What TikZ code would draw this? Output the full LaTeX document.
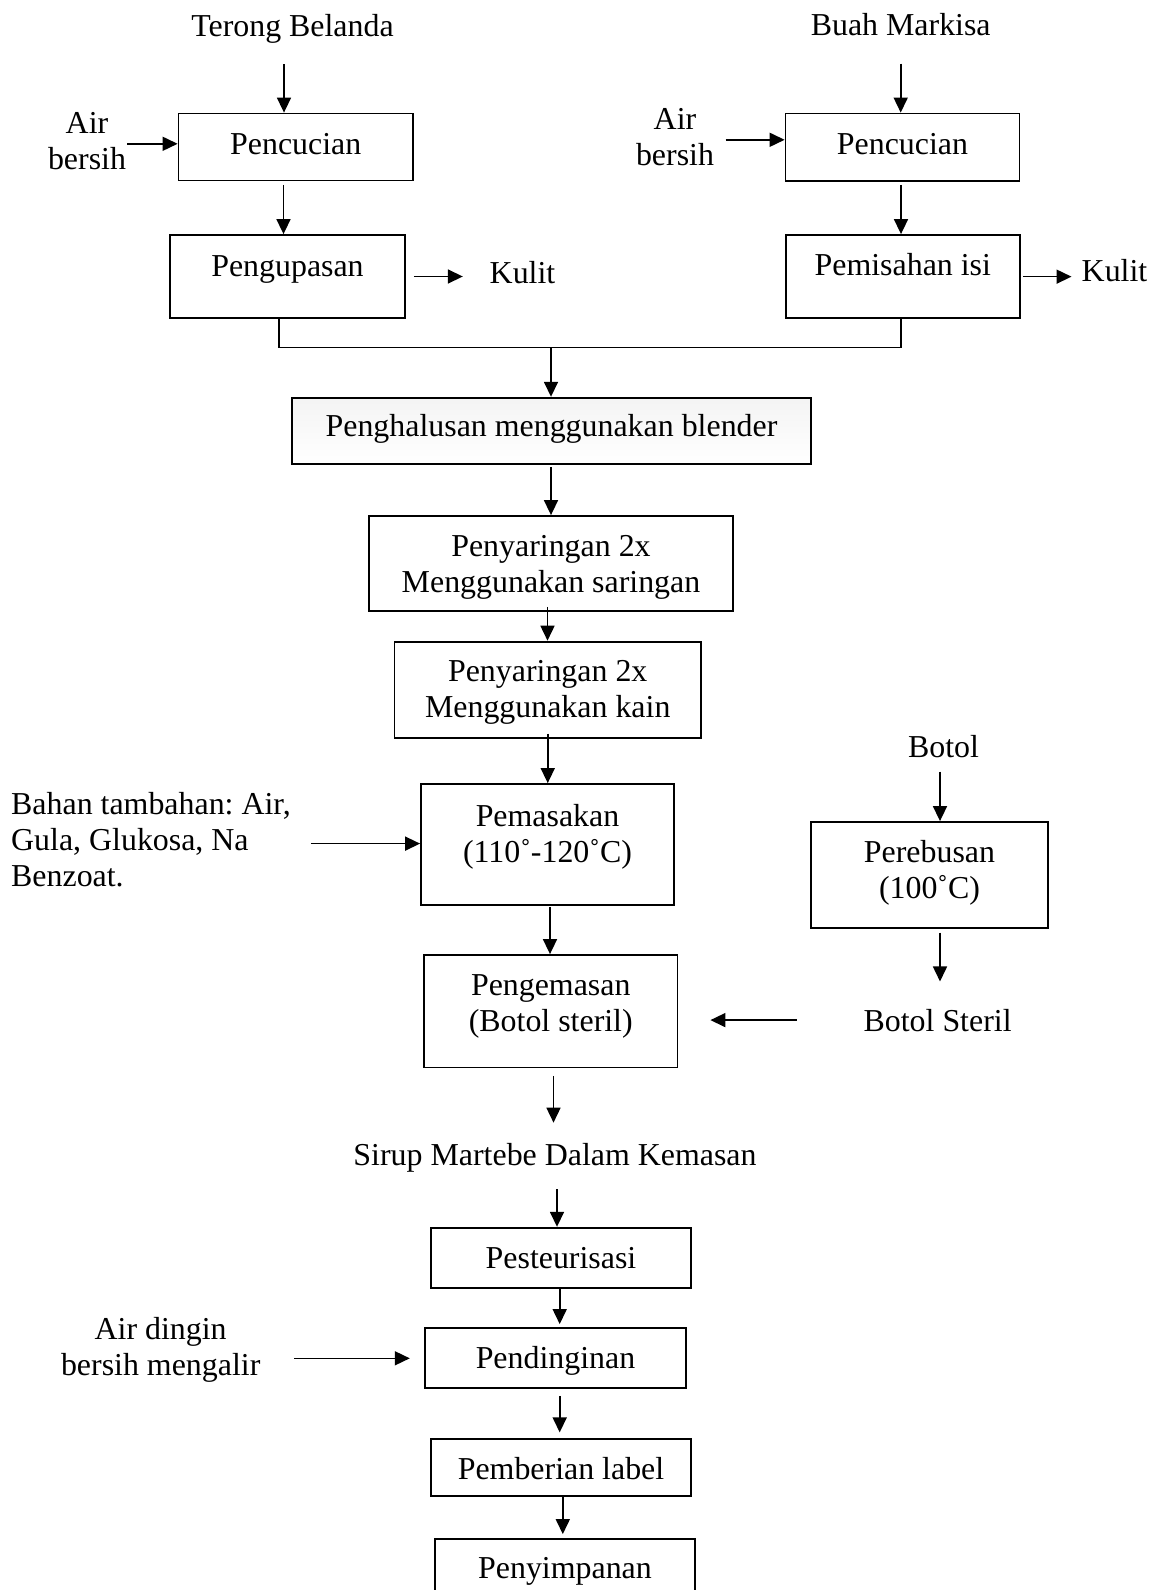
\documentclass[tikz,border=0pt]{standalone}
\usepackage{fontspec}
\setmainfont{Liberation Serif}
\usepackage{tikz}
\usetikzlibrary{arrows.meta, positioning}
\frenchspacing

\tikzset{
    stepbox/.style={draw, line width=1.8pt, inner sep=0pt, anchor=base},
    lbl/.style={inner sep=0pt, anchor=base},
    arr/.style={-{Triangle[length=15pt, width=14pt]}, line width=1.6pt},
}

\begin{document}
\begin{tikzpicture}[x=1pt, y=-1pt, every node/.style={font=\fontsize{31.9}{36}\selectfont}]
    \useasboundingbox (0,0) rectangle (1165,1590);

    % inputs
    \node (tb) [lbl] at (292.5,36) {Terong Belanda};
    \node (bm) [lbl] at (900.7,35) {Buah Markisa};
    \node (airL) [lbl] at (87,169) {\begin{tabular}[b]{@{}c@{}}Air\\bersih\end{tabular}};
    \node (airR) [lbl] at (675,165) {\begin{tabular}[b]{@{}c@{}}Air\\bersih\end{tabular}};

    % two branches
    \node (pcL) [stepbox, minimum width=234.5pt, text height=41pt, text depth=26pt] at (295.75,154.5) {Pencucian};
    \node (pgL) [stepbox, minimum width=235pt, text height=41pt, text depth=42pt] at (287.5,276) {Pengupasan};
    \node (kulL) [lbl] at (522.5,283) {Kulit};
    \node (pcR) [stepbox, minimum width=234pt, text height=40.5pt, text depth=27pt] at (902.5,154) {Pencucian};
    \node (pmR) [stepbox, minimum width=234.4pt, text height=40pt, text depth=43.3pt] at (902.8,275) {Pemisahan isi};
    \node (kulR) [lbl] at (1114.5,281.7) {Kulit};
    \coordinate (mj) at (551,347.3);

    % main line
    \node (blend) [stepbox, top color=gray!9, bottom color=white, minimum width=519pt, text height=39pt, text depth=27.6pt] at (551.5,436.7) {Penghalusan menggunakan blender};
    \node (sar) [stepbox, minimum width=364pt, text height=76pt, text depth=19pt] at (551,592) {\begin{tabular}[b]{@{}c@{}}Penyaringan 2x\\Menggunakan saringan\end{tabular}};
    \node (kain) [stepbox, minimum width=306.5pt, text height=76pt, text depth=20.2pt] at (547.75,717.6) {\begin{tabular}[b]{@{}c@{}}Penyaringan 2x\\Menggunakan kain\end{tabular}};
    \node (bahan) [lbl, anchor=base west] at (11,886.8) {\begin{tabular}[b]{@{}l@{}}Bahan tambahan: Air,\\Gula, Glukosa, Na\\Benzoat.\end{tabular}};
    \node (masak) [stepbox, minimum width=253pt, text height=78pt, text depth=43pt] at (547.5,862) {\begin{tabular}[b]{@{}c@{}}Pemasakan\\(110˚-120˚C)\end{tabular}};
    \node (kemas) [stepbox, minimum width=253.5pt, text height=76pt, text depth=36.5pt] at (550.75,1031) {\begin{tabular}[b]{@{}c@{}}Pengemasan\\(Botol steril)\end{tabular}};

    % bottle line
    \node (botol) [lbl] at (943.5,757.6) {Botol};
    \node (rebus) [stepbox, minimum width=237pt, text height=76pt, text depth=30pt] at (929.5,898) {\begin{tabular}[b]{@{}c@{}}Perebusan\\(100˚C)\end{tabular}};
    \node (steril) [lbl] at (937.6,1031) {Botol Steril};

    % end product
    \node (sirup) [lbl] at (555,1165) {Sirup Martebe Dalam Kemasan};
    \node (pst) [stepbox, minimum width=260pt, text height=40.6pt, text depth=19.4pt] at (561,1268.3) {Pesteurisasi};
    \node (airdingin) [lbl] at (160.7,1375) {\begin{tabular}[b]{@{}c@{}}Air dingin\\bersih mengalir\end{tabular}};
    \node (dingin) [stepbox, minimum width=261pt, text height=40pt, text depth=20pt] at (555.5,1368.3) {Pendinginan};
    \node (label) [stepbox, minimum width=260pt, text height=40pt, text depth=16.7pt] at (561,1479.3) {Pemberian label};
    \node (simpan) [stepbox, minimum width=260.7pt, text height=39.3pt, text depth=42pt] at (565,1578.3) {Penyimpanan};

    % arrows
    \draw[arr, shorten <=21pt] ([xshift=-8.5pt]tb.south) -- ([xshift=-11.75pt]pcL.north);
    \draw[arr, shorten <=1pt] (airL.east) -- (pcL.west |- airL.east);
    \draw[arr, shorten <=3.5pt] ([xshift=-12.25pt]pcL.south) -- ([xshift=-4pt]pgL.north);
    \draw[arr, shorten <=8pt, shorten >=26.7pt] (pgL.east) -- (pgL.east -| kulL.west);
    \draw[arr, shorten <=28pt] (bm.south) -- ([xshift=-1.8pt]pcR.north);
    \draw[arr, shorten <=11.5pt] (airR.east) -- (pcR.west |- airR.east);
    \draw[arr, shorten <=3pt] ([xshift=-1.5pt]pcR.south) -- ([xshift=-1.8pt]pmR.north);
    \draw[arr, shorten <=2pt, shorten >=10pt] (pmR.east) -- (pmR.east -| kulR.west);
    \draw[line width=1.6pt] ([xshift=-8.5pt]pgL.south) |- (mj) -| ([xshift=-1.8pt]pmR.south);
    \draw[arr] (mj) -- (mj |- blend.north);
    \draw[arr, shorten <=1.7pt] ([xshift=-0.5pt]blend.south) -- (sar.north);
    \draw[arr, shorten <=-5pt] ([xshift=-3.5pt]sar.south) -- ([xshift=-0.25pt]kain.north);
    \draw[arr, shorten <=-5pt] (kain.south) -- (kain.south |- masak.north);
    \draw[arr, shorten <=20pt] (bahan.east) -- (masak.west |- bahan.east);
    \draw[arr, shorten <=1pt] ([xshift=2.5pt]masak.south) -- ([xshift=-0.75pt]kemas.north);
    \draw[arr, shorten <=13.4pt] ([xshift=-3.5pt]botol.south) -- ([xshift=10.5pt]rebus.north);
    \draw[arr, shorten <=3.7pt, shorten >=27.2pt] ([xshift=10.5pt]rebus.south) -- ([xshift=2.4pt]steril.north);
    \draw[arr, shorten <=66.6pt, shorten >=32pt] (steril.west) -- (kemas.east |- steril.west);
    \draw[arr, shorten <=7.5pt, shorten >=20pt] ([xshift=2.75pt]kemas.south) -- ([xshift=-1.5pt]sirup.north);
    \draw[arr, shorten <=17pt] ([xshift=2pt]sirup.south) -- ([xshift=-4pt]pst.north);
    \draw[arr, shorten >=3.3pt] ([xshift=-1.3pt]pst.south) -- ([xshift=4.2pt]dingin.north);
    \draw[arr, shorten <=33.6pt, shorten >=14.3pt] (airdingin.east |- dingin.west) -- (dingin.west);
    \draw[arr, shorten <=6.7pt, shorten >=6pt] ([xshift=4.2pt]dingin.south) -- ([xshift=-1.3pt]label.north);
    \draw[arr, shorten >=4pt] ([xshift=1.8pt]label.south) -- ([xshift=-2.2pt]simpan.north);
\end{tikzpicture}
\end{document}
